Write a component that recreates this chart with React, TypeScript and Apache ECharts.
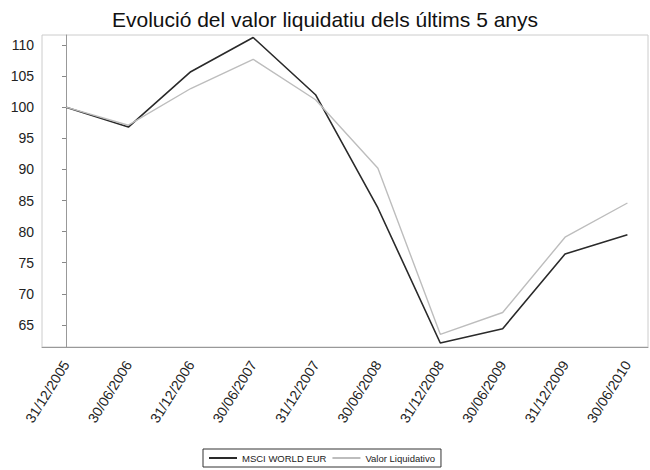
import React, { useEffect, useRef } from "react";
import * as echarts from "echarts";

const dates = [
  "31/12/2005", "30/06/2006", "31/12/2006", "30/06/2007", "31/12/2007",
  "30/06/2008", "31/12/2008", "30/06/2009", "31/12/2009", "30/06/2010",
];
const msciWorld = [100, 96.8, 105.7, 111.2, 102.0, 83.8, 62.1, 64.4, 76.4, 79.5];
const valorLiquidativo = [100, 97.1, 103.0, 107.7, 101.2, 90.2, 63.5, 67.0, 79.1, 84.6];
const yTicks = [65, 70, 75, 80, 85, 90, 95, 100, 105, 110];
const xTicks = dates.map((_, i) => i);

const FONT = "'Liberation Sans', Arial, sans-serif";

export default function App() {
  const ref = useRef<HTMLDivElement>(null);
  useEffect(() => {
    if (!ref.current) return;
    const chart = echarts.init(ref.current, undefined, { renderer: "svg" });
    chart.setOption({
      animation: false,
      backgroundColor: "#ffffff",
      title: {
        text: "Evolució del valor liquidatiu dels últims 5 anys",
        left: "center",
        top: 4,
        textStyle: { fontFamily: FONT, fontSize: 21, fontWeight: "normal", color: "#111" },
      },
      legend: {
        bottom: 3,
        left: 203,
        borderColor: "#333",
        borderWidth: 1,
        borderRadius: 0,
        padding: [4, 6, 4, 6],
        itemWidth: 28,
        itemHeight: 2,
        itemGap: 6,
        icon: "rect",
        textStyle: { fontFamily: FONT, fontSize: 9.5, color: "#222" },
        data: ["MSCI WORLD EUR", "Valor Liquidativo"],
      },
      grid: {
        left: 42,
        right: 2,
        top: 35,
        bottom: 123,
        show: true,
        borderColor: "#cccccc",
        borderWidth: 1,
      },
      xAxis: {
        type: "value",
        min: -0.385,
        max: 9.33,
        splitLine: { show: false },
        axisLine: { show: true, lineStyle: { color: "#999", width: 1 } },
        axisTick: { show: false },
        axisLabel: {
          customValues: xTicks,
          formatter: (v: number) => dates[Math.round(v)] ?? "",
          rotate: 58,
          margin: 15,
          fontFamily: FONT,
          fontSize: 14,
          color: "#222",
          showMinLabel: true,
          showMaxLabel: true,
        },
      },
      yAxis: {
        type: "value",
        min: 61.46,
        max: 111.6,
        splitLine: { show: false },
        axisLine: { show: true, lineStyle: { color: "#999", width: 1 } },
        axisTick: { show: true, length: 4, customValues: yTicks, lineStyle: { color: "#888" } },
        axisLabel: {
          customValues: yTicks,
          margin: 8,
          fontFamily: FONT,
          fontSize: 14,
          color: "#222",
        },
      },
      series: [
        {
          name: "MSCI WORLD EUR",
          type: "line",
          data: msciWorld.map((v, i) => [i, v]),
          showSymbol: false,
          symbol: "none",
          lineStyle: { color: "#2a2a2a", width: 1.6 },
          itemStyle: { color: "#2a2a2a" },
        },
        {
          name: "Valor Liquidativo",
          type: "line",
          data: valorLiquidativo.map((v, i) => [i, v]),
          showSymbol: false,
          symbol: "none",
          lineStyle: { color: "#bdbdbd", width: 1.4 },
          itemStyle: { color: "#bdbdbd" },
        },
      ],
    });
    return () => chart.dispose();
  }, []);
  return <div ref={ref} style={{ width: 650, height: 470, position: "absolute", left: 0, top: 0 }} />;
}
